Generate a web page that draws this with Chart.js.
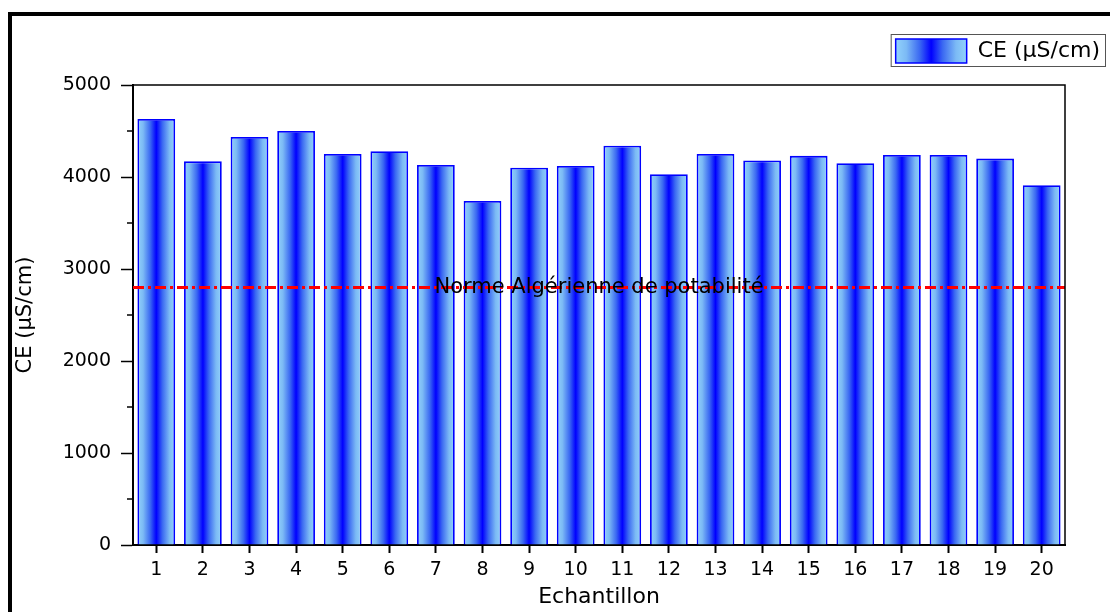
<!DOCTYPE html>
<html lang="fr">
<head>
<meta charset="utf-8">
<title>CE (µS/cm)</title>
<script src="https://cdn.jsdelivr.net/npm/chart.js"></script>
<style>
  html, body { margin: 0; padding: 0; background: #fff; overflow: hidden; }
  .cadre { position: absolute; left: 8px; top: 12px; width: 1300px; height: 800px; border: 4px solid #000; }
  .zone { position: absolute; left: 0; top: 0; width: 1110px; height: 612px; }
</style>
</head>
<body>
<div class="cadre"></div>
<div class="zone"><canvas id="ceChart"></canvas></div>
<script>
// Données
const categories = ['1', '2', '3', '4', '5', '6', '7', '8', '9', '10',
                    '11', '12', '13', '14', '15', '16', '17', '18', '19', '20'];
const ceValues = [4630, 4170, 4435, 4500, 4250, 4280, 4130, 3740, 4100, 4120,
                  4340, 4030, 4250, 4180, 4230, 4150, 4240, 4240, 4200, 3910];
const normeValue = 2800;
const normeLabel = 'Norme Algérienne de potabilité';
const yTicks = [0, 1000, 2000, 3000, 4000, 5000];
const yMinorTicks = [500, 1500, 2500, 3500, 4500];
const seriesLabel = 'CE (µS/cm)';

const barPct = 0.81;
const police = 'DejaVu Sans';

function degradeBleu(ctx, x0, x1) {
    const g = ctx.createLinearGradient(x0, 0, x1, 0);
    g.addColorStop(0, '#92d2fb');
    g.addColorStop(0.15, '#7cbaf5');
    g.addColorStop(0.34, '#3a68f2');
    g.addColorStop(0.5, '#0000ff');
    g.addColorStop(0.66, '#3a68f2');
    g.addColorStop(0.85, '#7cbaf5');
    g.addColorStop(1, '#92d2fb');
    return g;
}

// espace sous la légende + cadre de la légende
const legendSpace = {
    id: 'legendSpace',
    beforeInit(chart) {
        const fit = chart.legend.fit;
        chart.legend.fit = function () {
            fit.bind(chart.legend)();
            this.height += 12;
        };
    },
    beforeDraw(chart) {
        const lg = chart.legend;
        if (!lg || !lg.legendHitBoxes || !lg.legendHitBoxes.length) return;
        const hb = lg.legendHitBoxes[0];
        lg.legendItems[0].fillStyle = degradeBleu(chart.ctx, hb.left, hb.left + 71);
    },
    afterDraw(chart) {
        const lg = chart.legend;
        if (!lg || !lg.legendHitBoxes || !lg.legendHitBoxes.length) return;
        const hb = lg.legendHitBoxes[0];
        const ctx = chart.ctx;
        ctx.save();
        ctx.strokeStyle = '#555';
        ctx.lineWidth = 1;
        ctx.strokeRect(hb.left - 4.5, hb.top - 4.5, hb.width + 10, hb.height + 8);
        ctx.restore();
    }
};

// ligne de la norme + cadre + petites graduations
const normeLine = {
    id: 'normeLine',
    afterDatasetsDraw(chart) {
        const {ctx, chartArea: a, scales} = chart;
        const y = scales.y.getPixelForValue(normeValue);
        ctx.save();
        ctx.strokeStyle = '#ff0000';
        ctx.lineWidth = 3;
        ctx.setLineDash([11, 4, 3, 4]);
        ctx.beginPath();
        ctx.moveTo(a.left, y);
        ctx.lineTo(a.right, y);
        ctx.stroke();
        ctx.setLineDash([]);
        ctx.fillStyle = '#000';
        ctx.font = '21px "' + police + '"';
        ctx.textAlign = 'center';
        ctx.textBaseline = 'middle';
        ctx.fillText(normeLabel, (a.left + a.right) / 2, y);

        ctx.strokeStyle = '#000';
        ctx.lineWidth = 1.5;
        ctx.beginPath();
        ctx.moveTo(a.left, a.top);
        ctx.lineTo(a.right, a.top);
        ctx.lineTo(a.right, a.bottom);
        ctx.stroke();

        yMinorTicks.forEach(v => {
            const yy = scales.y.getPixelForValue(v);
            ctx.beginPath();
            ctx.moveTo(a.left - 6, yy);
            ctx.lineTo(a.left, yy);
            ctx.stroke();
        });
        ctx.restore();
    }
};

const ctx = document.getElementById('ceChart').getContext('2d');

const ceChart = new Chart(ctx, {
    type: 'bar',
    data: {
        labels: categories,
        datasets: [{
            label: seriesLabel,
            data: ceValues,
            backgroundColor(c) {
                const chart = c.chart;
                const xs = chart.scales.x;
                if (c.dataIndex === undefined || !chart.chartArea || !xs) return '#3a68f2';
                const centre = xs.getPixelForValue(c.dataIndex);
                const half = xs.width / categories.length * barPct / 2;
                return degradeBleu(chart.ctx, centre - half, centre + half);
            },
            borderColor: '#0000ff',
            borderWidth: 1.8,
            barPercentage: barPct,
            categoryPercentage: 1
        }]
    },
    options: {
        responsive: true,
        maintainAspectRatio: false,
        animation: false,
        layout: {
            padding: { top: 33, left: 12, right: 4, bottom: 0 }
        },
        scales: {
            x: {
                offset: true,
                border: { color: '#000', width: 2 },
                grid: { offset: false, drawOnChartArea: false, tickLength: 8, tickColor: '#000', tickWidth: 2 },
                ticks: { color: '#000', padding: 6, font: { family: police, size: 19 } },
                title: {
                    display: true,
                    text: 'Echantillon',
                    color: '#000',
                    padding: { top: 0, bottom: 2 },
                    font: { family: police, size: 22 }
                },
                afterFit(scale) { scale.height = 67; }
            },
            y: {
                min: 0,
                max: 5000,
                afterBuildTicks(scale) { scale.ticks = yTicks.map(v => ({ value: v })); },
                border: { color: '#000', width: 2 },
                grid: { drawOnChartArea: false, tickLength: 12, tickColor: '#000', tickWidth: 1.5 },
                ticks: {
                    color: '#000',
                    padding: 10,
                    font: { family: police, size: 19 },
                    callback: v => String(v)
                },
                title: {
                    display: true,
                    text: seriesLabel,
                    color: '#000',
                    padding: { top: 1, bottom: 0 },
                    font: { family: police, size: 21 }
                },
                afterFit(scale) { scale.width = 121; }
            },
            yVide: {
                position: 'right',
                display: true,
                border: { display: false },
                grid: { display: false },
                ticks: { display: false },
                afterFit(scale) { scale.width = 41; }
            }
        },
        plugins: {
            legend: {
                position: 'top',
                align: 'end',
                labels: {
                    boxWidth: 71,
                    boxHeight: 24,
                    padding: 6,
                    color: '#000',
                    font: { family: police, size: 22 },
                    generateLabels() {
                        return [{
                            text: seriesLabel,
                            fillStyle: '#3a68f2',
                            strokeStyle: '#0000ff',
                            lineWidth: 1.5,
                            hidden: false,
                            datasetIndex: 0
                        }];
                    }
                }
            },
            tooltip: { enabled: false }
        }
    },
    plugins: [legendSpace, normeLine]
});
</script>
</body>
</html>
